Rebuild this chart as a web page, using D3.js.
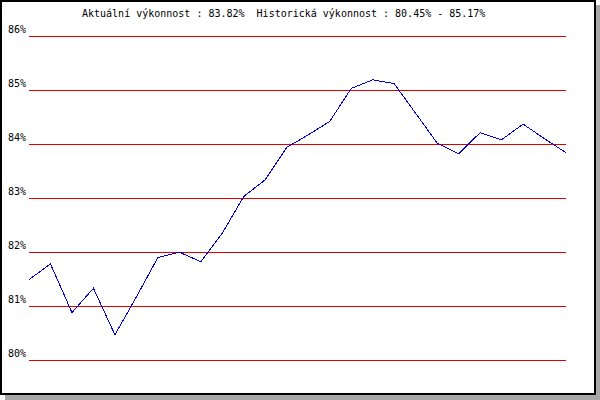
<!DOCTYPE html>
<html>
<head>
<meta charset="utf-8">
<script src="https://cdn.jsdelivr.net/npm/d3@7"></script>
<style>
    html, body { margin: 0; padding: 0; background: #fff; }
    svg { display: block; }
    text { font-family: "DejaVu Sans Mono", monospace; font-size: 10px; fill: #000; }
</style>
</head>
<body>
<div id="chart"></div>
<script>
// Chart data
const titleCurrent = "Aktuální výkonnost : 83.82%";
const titleHistory = "Historická výkonnost : 80.45% - 85.17%";
const yTicks = [80, 81, 82, 83, 84, 85, 86];
const yTickLabels = ["80%", "81%", "82%", "83%", "84%", "85%", "86%"];
const values = [81.47, 81.76, 80.86, 81.31, 80.45, 81.15, 81.88, 81.98, 81.80, 82.33,
                83.01, 83.32, 83.92, 84.15, 84.40, 85.01, 85.17, 85.10, 84.55, 84.00,
                83.80, 84.19, 84.06, 84.35, 84.08, 83.82];

function renderChart() {
    const width = 600;
    const height = 400;
    const left = 29, right = 566, top = 35, bottom = 359;

    const svg = d3.select('#chart')
                .append('svg')
                .attr('width', width)
                .attr('height', height);

    // shadow + frame
    svg.append('rect')
        .attr('x', 5).attr('y', 5)
        .attr('width', 595).attr('height', 395)
        .attr('fill', '#a8a8a8');
    svg.append('rect')
        .attr('x', 1).attr('y', 1)
        .attr('width', 594).attr('height', 393)
        .attr('fill', '#fff')
        .attr('stroke', '#000')
        .attr('stroke-width', 2);

    const x = d3.scalePoint()
                .domain(d3.range(values.length))
                .range([left, right]);

    const y = d3.scaleLinear()
                .domain([80, 86])
                .range([bottom, top]);

    // grid + labels
    const axis = d3.axisLeft(y)
                .tickValues(yTicks)
                .tickSize(-(right - left))
                .tickPadding(3)
                .tickFormat((d, i) => yTickLabels[i]);

    const g = svg.append('g')
                .attr('transform', 'translate(' + left + ',0.5)')
                .call(axis);
    g.select('.domain').remove();
    g.selectAll('.tick line')
        .attr('stroke', '#e00000')
        .attr('shape-rendering', 'crispEdges');
    g.selectAll('.tick text')
        .attr('dy', null)
        .attr('y', -3)
        .attr('fill', '#000')
        .style('font-family', '"DejaVu Sans Mono", monospace')
        .style('font-size', '10px');

    // performance line
    const line = d3.line()
                .x((d, i) => x(i))
                .y(d => y(d));

    svg.append('path')
        .datum(values)
        .attr('d', line)
        .attr('fill', 'none')
        .attr('stroke', '#0000d0')
        .attr('stroke-width', 1)
        .attr('shape-rendering', 'crispEdges');

    svg.append('text')
        .attr('x', 82)
        .attr('y', 17)
        .attr('xml:space', 'preserve')
        .style('white-space', 'pre')
        .text(titleCurrent + "  " + titleHistory);
}

document.addEventListener("DOMContentLoaded", renderChart);
</script>
</body>
</html>
